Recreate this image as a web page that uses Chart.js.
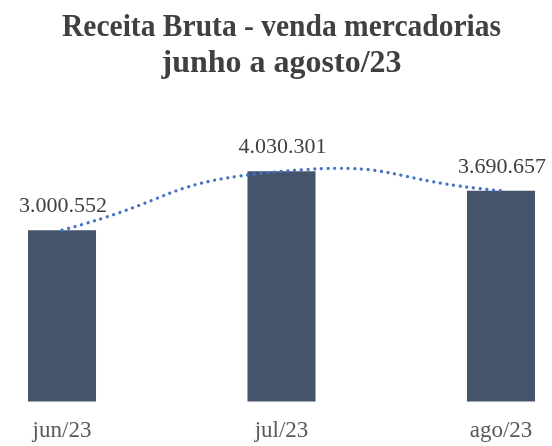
<!DOCTYPE html>
<html>
<head>
<meta charset="utf-8">
<script src="https://cdn.jsdelivr.net/npm/chart.js@4.4.0/dist/chart.umd.min.js"></script>
<style>
  html, body { margin: 0; padding: 0; background: #ffffff; }
  #wrap { width: 552px; height: 446px; position: relative; }
</style>
</head>
<body>
<div id="wrap"><canvas id="c" width="552" height="446"></canvas></div>
<script>
const categories = ['jun/23', 'jul/23', 'ago/23'];
const receita = [3000552, 4030301, 3690657];
const titleLines = ['Receita Bruta - venda mercadorias', 'junho a agosto/23'];

function fmt(v) {
  return String(v).replace(/\B(?=(\d{3})+(?!\d))/g, '.');
}

const labelPlugin = {
  id: 'barLabels',
  afterDatasetsDraw(chart) {
    const ctx = chart.ctx;
    const meta = chart.getDatasetMeta(1);
    ctx.save();
    ctx.font = '22px "Liberation Serif", "Times New Roman", serif';
    ctx.fillStyle = '#404040';
    ctx.textAlign = 'center';
    ctx.textBaseline = 'middle';
    meta.data.forEach((el, i) => {
      ctx.fillText(fmt(receita[i]), el.x + 1, el.y - 24);
    });
    ctx.restore();
  }
};

new Chart(document.getElementById('c'), {
  data: {
    labels: categories,
    datasets: [
      {
        type: 'line',
        data: receita,
        borderColor: '#4472C4',
        borderWidth: 3.2,
        borderDash: [0.1, 6.6],
        borderCapStyle: 'round',
        tension: 0.55,
        pointRadius: 0,
        fill: false,
        clip: false,
        order: 0
      },
      {
        type: 'bar',
        data: receita,
        backgroundColor: '#44546A',
        categoryPercentage: 1,
        barPercentage: 0.31,
        clip: false,
        order: 1
      }
    ]
  },
  options: {
    responsive: false,
    animation: false,
    devicePixelRatio: 1,
    layout: { padding: { left: 62, right: 51, top: 0, bottom: -15 } },
    plugins: {
      legend: { display: false },
      tooltip: { enabled: false },
      title: {
        display: true,
        text: titleLines,
        color: '#404040',
        font: { family: '"Liberation Serif", "Times New Roman", serif', size: 32, weight: 'bold', lineHeight: 1.125 },
        padding: { top: 10, bottom: 34 }
      }
    },
    scales: {
      x: {
        offset: false,
        grid: { display: false, drawTicks: false },
        border: { display: false },
        ticks: {
          color: '#595959',
          padding: 16,
          font: { family: '"Liberation Serif", "Times New Roman", serif', size: 23 }
        }
      },
      y: {
        display: false,
        min: 0,
        max: 5000000
      }
    }
  },
  plugins: [labelPlugin]
});
</script>
</body>
</html>
